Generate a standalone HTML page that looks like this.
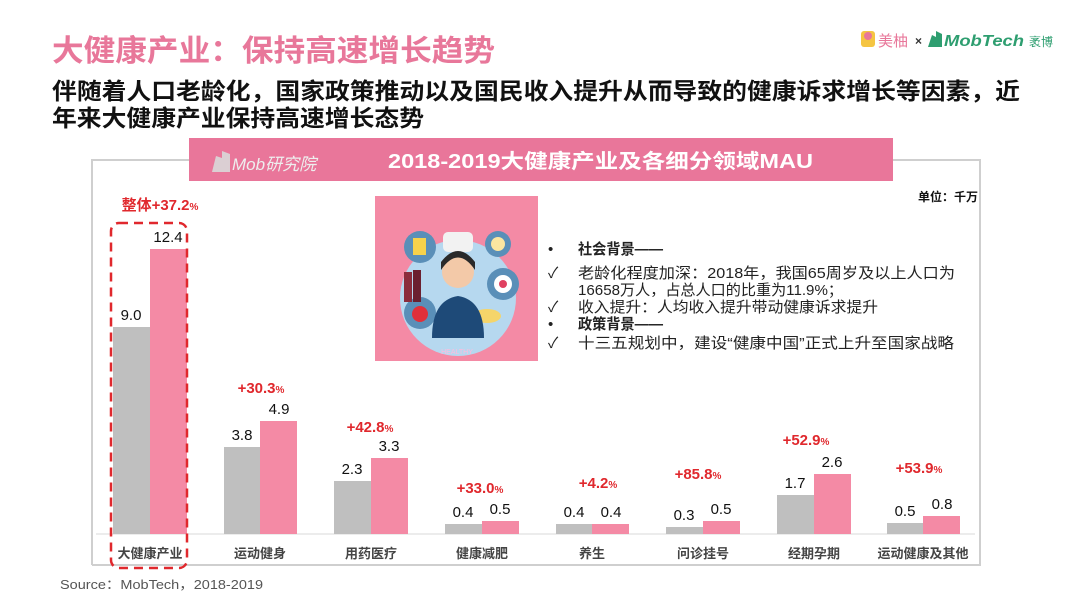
<!DOCTYPE html>
<html><head><meta charset="utf-8"><style>
html,body{margin:0;padding:0;background:#fff;}
body{width:1080px;height:608px;position:relative;overflow:hidden;font-family:"Liberation Sans","Noto Sans CJK SC",sans-serif;}
</style></head><body>
<svg width="1080" height="608" viewBox="0 0 1080 608" xmlns="http://www.w3.org/2000/svg" style="position:absolute;left:0;top:0" font-family="Liberation Sans, Noto Sans CJK SC, sans-serif">
<text x="52" y="61" font-size="30" font-weight="bold" fill="#e8779a" textLength="443" lengthAdjust="spacingAndGlyphs">大健康产业：保持高速增长趋势</text>
<text x="52" y="99" font-size="23" font-weight="bold" fill="#111" textLength="968" lengthAdjust="spacingAndGlyphs">伴随着人口老龄化，国家政策推动以及国民收入提升从而导致的健康诉求增长等因素，近</text>
<text x="52" y="126" font-size="23" font-weight="bold" fill="#111" textLength="372" lengthAdjust="spacingAndGlyphs">年来大健康产业保持高速增长态势</text>
<rect x="861" y="31" width="14" height="16" rx="3" fill="#f5c542"/><circle cx="868" cy="36" r="4" fill="#e8779a"/>
<text x="878" y="46" font-size="15" fill="#e8779a">美柚</text>
<text x="915" y="45" font-size="12" font-weight="bold" fill="#333">×</text>
<path d="M928 47 L932 35 L936 37 L936 31 L942 34 L942 47 Z" fill="#2e9e70"/>
<text x="944" y="46" font-size="16" font-style="italic" font-weight="bold" fill="#2e9e70" textLength="80" lengthAdjust="spacingAndGlyphs">MobTech</text>
<text x="1029" y="46" font-size="12" fill="#2e9e70">袤博</text>
<path d="M92 565 L92 160 L189 160 M893 160 L980 160 L980 565 L92 565" fill="none" stroke="#cfcfcf" stroke-width="2"/>
<rect x="189" y="138" width="704" height="43" fill="#e9769a"/>
<path d="M212 172 L216 156 L222 158 L222 151 L230 154 L230 172 Z" fill="#d9d9d9" opacity="0.9"/>
<text x="232" y="170" font-size="17" font-style="italic" fill="#eee">Mob研究院</text>
<text x="388" y="168" font-size="20" font-weight="bold" fill="#fff" textLength="425" lengthAdjust="spacingAndGlyphs">2018-2019大健康产业及各细分领域MAU</text>
<text x="978" y="201" font-size="12" font-weight="bold" fill="#111" text-anchor="end">单位：千万</text>
<rect x="375" y="196" width="163" height="165" fill="#f48aa5"/>
<circle cx="458" cy="298" r="58" fill="#b6d8ef"/>
<circle cx="420" cy="247" r="16" fill="#5a8fb8"/><rect x="413" y="238" width="13" height="17" fill="#f7d24a"/>
<circle cx="498" cy="244" r="13" fill="#5a8fb8"/><circle cx="498" cy="244" r="7" fill="#fce6a0"/>
<circle cx="503" cy="284" r="16" fill="#5a8fb8"/><circle cx="503" cy="284" r="9" fill="#fff"/><circle cx="503" cy="284" r="4" fill="#e04060"/>
<circle cx="420" cy="313" r="16" fill="#5a8fb8"/><circle cx="420" cy="314" r="8" fill="#e0303a"/>
<rect x="404" y="272" width="8" height="30" fill="#8b2c3c"/><rect x="413" y="270" width="8" height="32" fill="#6b2030"/>
<ellipse cx="487" cy="316" rx="14" ry="7" fill="#f5d56a"/>
<rect x="443" y="232" width="30" height="20" rx="5" fill="#f2f2f2"/>
<circle cx="458" cy="272" r="16" fill="#f3c9a8"/><path d="M441 270 Q458 245 475 270 L475 262 Q458 240 441 262 Z" fill="#2a2a2a"/>
<path d="M432 338 Q432 300 458 296 Q484 300 484 338 Z" fill="#1e4a78"/>
<text x="457" y="354" font-size="7" fill="#fbd" text-anchor="middle">HEALTHY</text>
<g font-size="15" fill="#222">
<text x="548" y="254">•</text><text x="578" y="254" font-weight="bold" textLength="85" lengthAdjust="spacingAndGlyphs">社会背景——</text>
<text x="548" y="278">✓</text><text x="578" y="278" textLength="377" lengthAdjust="spacingAndGlyphs">老龄化程度加深：2018年，我国65周岁及以上人口为</text>
<text x="578" y="295" textLength="265" lengthAdjust="spacingAndGlyphs">16658万人，占总人口的比重为11.9%；</text>
<text x="548" y="312">✓</text><text x="578" y="312" textLength="300" lengthAdjust="spacingAndGlyphs">收入提升：人均收入提升带动健康诉求提升</text>
<text x="548" y="329">•</text><text x="578" y="329" font-weight="bold" textLength="85" lengthAdjust="spacingAndGlyphs">政策背景——</text>
<text x="548" y="348">✓</text><text x="578" y="348" textLength="376" lengthAdjust="spacingAndGlyphs">十三五规划中，建设“健康中国”正式上升至国家战略</text>
</g>
<line x1="96" y1="534" x2="975" y2="534" stroke="#e6e6e6" stroke-width="1.5"/>
<g>
<rect x="113" y="327" width="37" height="207" fill="#bfbfbf"/><rect x="150" y="249" width="37" height="285" fill="#f48aa5"/>
<rect x="224" y="447" width="36" height="87" fill="#bfbfbf"/><rect x="260" y="421" width="37" height="113" fill="#f48aa5"/>
<rect x="334" y="481" width="37" height="53" fill="#bfbfbf"/><rect x="371" y="458" width="37" height="76" fill="#f48aa5"/>
<rect x="445" y="524" width="37" height="10" fill="#bfbfbf"/><rect x="482" y="521" width="37" height="13" fill="#f48aa5"/>
<rect x="556" y="524" width="36" height="10" fill="#bfbfbf"/><rect x="592" y="524" width="37" height="10" fill="#f48aa5"/>
<rect x="666" y="527" width="37" height="7" fill="#bfbfbf"/><rect x="703" y="521" width="37" height="13" fill="#f48aa5"/>
<rect x="777" y="495" width="37" height="39" fill="#bfbfbf"/><rect x="814" y="474" width="37" height="60" fill="#f48aa5"/>
<rect x="887" y="523" width="36" height="11" fill="#bfbfbf"/><rect x="923" y="516" width="37" height="18" fill="#f48aa5"/>
</g>
<g font-size="15" fill="#111" text-anchor="middle">
<text x="131" y="320">9.0</text><text x="168" y="242">12.4</text>
<text x="242" y="440">3.8</text><text x="279" y="414">4.9</text>
<text x="352" y="474">2.3</text><text x="389" y="451">3.3</text>
<text x="463" y="517">0.4</text><text x="500" y="514">0.5</text>
<text x="574" y="517">0.4</text><text x="611" y="517">0.4</text>
<text x="684" y="520">0.3</text><text x="721" y="514">0.5</text>
<text x="795" y="488">1.7</text><text x="832" y="467">2.6</text>
<text x="905" y="516">0.5</text><text x="942" y="509">0.8</text>
</g>
<g font-size="15" font-weight="bold" fill="#e0282d" text-anchor="middle">
<text x="160" y="210">整体+37.2<tspan font-size="10">%</tspan></text>
<text x="261" y="393">+30.3<tspan font-size="10">%</tspan></text>
<text x="370" y="432">+42.8<tspan font-size="10">%</tspan></text>
<text x="480" y="493">+33.0<tspan font-size="10">%</tspan></text>
<text x="598" y="488">+4.2<tspan font-size="10">%</tspan></text>
<text x="698" y="479">+85.8<tspan font-size="10">%</tspan></text>
<text x="806" y="445">+52.9<tspan font-size="10">%</tspan></text>
<text x="919" y="473">+53.9<tspan font-size="10">%</tspan></text>
</g>
<g font-size="13" font-weight="bold" fill="#444" text-anchor="middle">
<text x="150" y="558">大健康产业</text><text x="260" y="558">运动健身</text><text x="371" y="558">用药医疗</text>
<text x="482" y="558">健康减肥</text><text x="592" y="558">养生</text><text x="703" y="558">问诊挂号</text>
<text x="814" y="558">经期孕期</text><text x="923" y="558">运动健康及其他</text>
</g>
<rect x="111" y="223" width="76" height="345" rx="8" fill="none" stroke="#e0282d" stroke-width="2.5" stroke-dasharray="9,6"/>
<text x="60" y="589" font-size="13" fill="#555" textLength="203" lengthAdjust="spacingAndGlyphs">Source：MobTech，2018-2019</text>
</svg>
</body></html>
